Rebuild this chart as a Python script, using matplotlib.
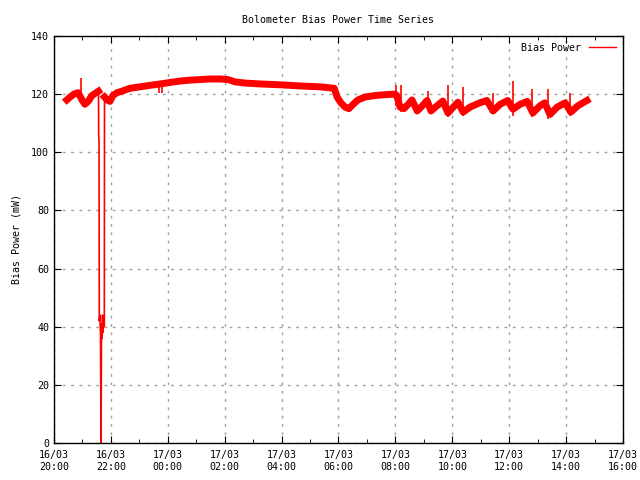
import pandas as pd
import matplotlib
matplotlib.use("Agg")
import matplotlib.pyplot as plt
import matplotlib.dates as mdates

# main noisy band (centre of the trace)
main1_times = ["2024-03-16 20:27", "2024-03-16 20:34", "2024-03-16 20:42", "2024-03-16 20:51",
               "2024-03-16 20:59", "2024-03-16 21:05", "2024-03-16 21:12", "2024-03-16 21:20",
               "2024-03-16 21:29", "2024-03-16 21:33:50"]
main1_values = [118, 119, 120, 120.5, 118, 116.5, 117.5, 119.5, 120.5, 121]

# the dropout around 21:35-21:46
drop_times = ["2024-03-16 21:33:50", "2024-03-16 21:34:10", "2024-03-16 21:34:55", "2024-03-16 21:35:30",
              "2024-03-16 21:36:40", "2024-03-16 21:38:05", "2024-03-16 21:39:10", "2024-03-16 21:40:10",
              "2024-03-16 21:41:10", "2024-03-16 21:42:15", "2024-03-16 21:43:20", "2024-03-16 21:44:25",
              "2024-03-16 21:46:05", "2024-03-16 21:46:30"]
drop_values = [121, 106, 104, 42, 44, 37, 0, 41, 36, 44, 38, 42, 40, 119]

main2_times = ["2024-03-16 21:46:30", "2024-03-16 21:52", "2024-03-16 21:58", "2024-03-16 22:04",
               "2024-03-16 22:13", "2024-03-16 22:23", "2024-03-16 22:40", "2024-03-16 23:01",
               "2024-03-16 23:22", "2024-03-16 23:44", "2024-03-17 00:05", "2024-03-17 00:26",
               "2024-03-17 00:47", "2024-03-17 01:08", "2024-03-17 01:29", "2024-03-17 01:50",
               "2024-03-17 02:07", "2024-03-17 02:22", "2024-03-17 02:43", "2024-03-17 03:14",
               "2024-03-17 03:57", "2024-03-17 04:39", "2024-03-17 05:21", "2024-03-17 05:51",
               "2024-03-17 05:57", "2024-03-17 06:05", "2024-03-17 06:14", "2024-03-17 06:22",
               "2024-03-17 06:31", "2024-03-17 06:41", "2024-03-17 06:56", "2024-03-17 07:17",
               "2024-03-17 07:38", "2024-03-17 07:59", "2024-03-17 08:03", "2024-03-17 08:10",
               "2024-03-17 08:18", "2024-03-17 08:27", "2024-03-17 08:35", "2024-03-17 08:46",
               "2024-03-17 08:54", "2024-03-17 09:07", "2024-03-17 09:15", "2024-03-17 09:28",
               "2024-03-17 09:40", "2024-03-17 09:51", "2024-03-17 09:59", "2024-03-17 10:12",
               "2024-03-17 10:23", "2024-03-17 10:37", "2024-03-17 10:58", "2024-03-17 11:13",
               "2024-03-17 11:26", "2024-03-17 11:41", "2024-03-17 11:57", "2024-03-17 12:08",
               "2024-03-17 12:23", "2024-03-17 12:38", "2024-03-17 12:50", "2024-03-17 13:05",
               "2024-03-17 13:15", "2024-03-17 13:26", "2024-03-17 13:41", "2024-03-17 13:58",
               "2024-03-17 14:10", "2024-03-17 14:25", "2024-03-17 14:44"]
main2_values = [119, 118, 117.5, 119.5, 120.5, 121, 122, 122.5,
                123, 123.5, 124, 124.5, 124.8, 125, 125.2, 125.2,
                125, 124.2, 123.8, 123.5, 123.2, 122.8, 122.5, 122,
                119, 117, 115.5, 115, 116.5, 118, 119, 119.5,
                119.8, 120, 119.5, 115.5, 115, 116.5, 118, 114.2,
                115.5, 117.8, 114.2, 116, 117.6, 113.5, 115, 117.2,
                113.8, 115.5, 117, 117.8, 114.2, 116.5, 117.8, 114.8,
                116.5, 117.5, 113.5, 116, 117, 113, 115.5, 117,
                113.8, 116, 117.8]

# short glitches sticking out of the band
spike_times = ["2024-03-16 20:56", "2024-03-16 23:41", "2024-03-16 23:48", "2024-03-17 08:01",
               "2024-03-17 08:11", "2024-03-17 09:09", "2024-03-17 09:51", "2024-03-17 10:23",
               "2024-03-17 11:26", "2024-03-17 12:08", "2024-03-17 12:48", "2024-03-17 13:22",
               "2024-03-17 14:08"]
spike_low = [117, 120.5, 120.5, 116, 114, 116, 112, 112.5, 113, 112.5, 112, 111.4, 112.5]
spike_high = [125.5, 123, 123, 123.2, 123, 121, 123, 122.5, 120.5, 124.5, 121.7, 121.7, 120.5]


def to_dt(times):
    return pd.to_datetime(times, format="ISO8601")


plt.rcParams["font.family"] = "DejaVu Sans Mono"
plt.rcParams["font.size"] = 7.2

fig = plt.figure(figsize=(6.4, 4.8), dpi=100)
ax = fig.add_axes([0.0844, 0.0771, 0.889, 0.848])

red = "#ff0000"
ax.plot(to_dt(main1_times), main1_values, color=red, lw=5, label="Bias Power")
ax.plot(to_dt(drop_times), drop_values, color=red, lw=1.2)
ax.plot(to_dt(main2_times), main2_values, color=red, lw=5)
ax.vlines(to_dt(spike_times), spike_low, spike_high, color=red, lw=1.2)

ax.set_xlim(pd.Timestamp("2024-03-16 20:00"), pd.Timestamp("2024-03-17 16:00"))
ax.set_ylim(0, 140)
ax.set_yticks(range(0, 141, 20))
ax.xaxis.set_major_locator(mdates.HourLocator(byhour=range(0, 24, 2)))
ax.xaxis.set_minor_locator(mdates.HourLocator())
ax.xaxis.set_major_formatter(mdates.DateFormatter("%d/%m\n%H:%M"))

ax.tick_params(which="both", direction="in", top=True, right=True, length=5)
ax.tick_params(which="minor", length=3)
ax.tick_params(axis="x", pad=5)
ax.grid(True, which="major", color="#a0a0a0", linestyle=(0, (2, 4)), lw=1)
for s in ax.spines.values():
    s.set_linewidth(1)

ax.set_title("Bolometer Bias Power Time Series", fontsize=7.2, pad=9)
ax.set_ylabel("Bias Power (mW)", labelpad=7)

leg = ax.legend(loc="upper right", frameon=False, markerfirst=False, handlelength=2.7,
                handletextpad=0.8, borderaxespad=0.3)
for line in leg.get_lines():
    line.set_linewidth(1)

fig.savefig("out.png", dpi=100)
